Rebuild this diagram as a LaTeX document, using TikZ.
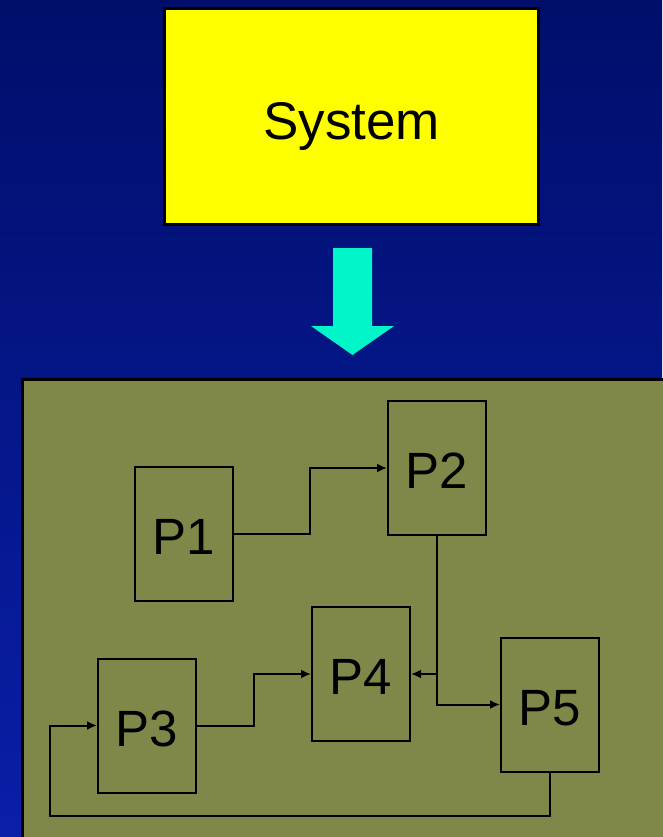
\documentclass[tikz,border=0pt]{standalone}
\usepackage{fontspec}
\setmainfont{Liberation Sans}
\usetikzlibrary{arrows.meta}
\definecolor{bgtop}{HTML}{000E6A}
\definecolor{bgbot}{HTML}{0A1EA8}
\definecolor{olive}{HTML}{7F8848}
\definecolor{sysyellow}{HTML}{FFFF00}
\definecolor{aqua}{HTML}{00F5C8}
\tikzset{
  pbox/.style={draw=black, line width=2pt, minimum width=98pt, minimum height=134pt, inner sep=0pt, text height=41pt, text depth=0pt, font=\fontsize{51}{51}\selectfont},
  conn/.style={draw=black, line width=2pt, -{Latex[length=10pt,width=9pt]}},
  plain/.style={draw=black, line width=2pt}
}
\begin{document}
\begin{tikzpicture}[x=1pt,y=-1pt]
\useasboundingbox (0,0) rectangle (662,837);
\shade[top color=bgtop, bottom color=bgbot] (0,0) rectangle (662,837);
% system box
\node[draw=black, line width=2.5pt, fill=sysyellow, minimum width=374pt, minimum height=216pt, inner sep=0pt, text height=47pt, text depth=0pt, font=\fontsize{53}{53}\selectfont] (sys) at (351.5,116.5) {System};
% big arrow
\fill[aqua] (333,248) -- (372,248) -- (372,326) -- (394,326) -- (352.5,355) -- (311,326) -- (333,326) -- cycle;
% olive panel
\node[draw=black, line width=2.5pt, fill=olive, minimum width=660pt, minimum height=480pt, inner sep=0pt, anchor=north west] (panel) at (21,378) {};
% processes
\node[pbox] (p1) at (184,534) {P1};
\node[pbox] (p2) at (437,468) {P2};
\node[pbox] (p4) at (361,674) {P4};
\node[pbox] (p3) at (147,725.5) {P3};
\node[pbox] (p5) at (550,704.5) {P5};
% connectors
\coordinate (j2) at (437,674);
\coordinate (c5) at (50,816);
\draw[conn] (p1.east) -- (310,534) |- (p2.west);
\draw[conn] (p3.east) -- (254,725.5) |- (p4.west);
\draw[conn] (p2.south) |- (p5.west);
\draw[conn] (j2) -- (p4.east);
\draw[conn] (p5.south) |- (c5) |- (p3.west);
\end{tikzpicture}
\end{document}
